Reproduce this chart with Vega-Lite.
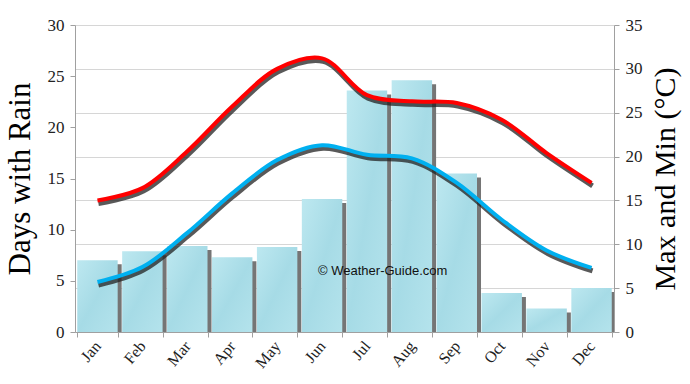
{
  "$schema": "https://vega.github.io/schema/vega-lite/v6.json",
  "width": 539,
  "height": 307,
  "autosize": "none",
  "padding": {"left": 75, "top": 25, "right": 76, "bottom": 52},
  "background": "white",
  "config": {"view": {"stroke": null}, "font": "Liberation Serif"},
  "data": {"values": [
    {"month": "Jan", "rain": 7.0, "max": 15.0, "min": 5.7},
    {"month": "Feb", "rain": 7.9, "max": 16.4, "min": 7.4},
    {"month": "Mar", "rain": 8.4, "max": 20.6, "min": 11.3},
    {"month": "Apr", "rain": 7.3, "max": 25.7, "min": 15.8},
    {"month": "May", "rain": 8.3, "max": 30.0, "min": 19.6},
    {"month": "Jun", "rain": 13.0, "max": 31.2, "min": 21.3},
    {"month": "Jul", "rain": 23.6, "max": 27.0, "min": 20.2},
    {"month": "Aug", "rain": 24.6, "max": 26.3, "min": 19.8},
    {"month": "Sep", "rain": 15.5, "max": 26.1, "min": 17.0},
    {"month": "Oct", "rain": 3.8, "max": 24.2, "min": 12.8},
    {"month": "Nov", "rain": 2.3, "max": 20.4, "min": 9.3},
    {"month": "Dec", "rain": 4.3, "max": 17.0, "min": 7.3}
  ]},
  "encoding": {
    "x": {
      "field": "month", "type": "nominal", "sort": null,
      "scale": {"paddingInner": 0.1, "paddingOuter": 0.05},
      "axis": {
        "title": null, "labelAngle": -50, "labelFontSize": 16, "labelColor": "#222",
        "tickBand": "extent", "domainColor": "#a0a0a0", "tickColor": "#a0a0a0",
        "tickSize": 5, "labelPadding": 6
      }
    }
  },
  "layer": [
    {
      "encoding": {
        "y": {
          "field": "rain", "type": "quantitative",
          "scale": {"domain": [0, 30]},
          "axis": {
            "orient": "left", "title": "Days with Rain", "titleFontSize": 31,
            "titleFontWeight": "normal", "titleColor": "#000", "titlePadding": 11,
            "values": [0, 5, 10, 15, 20, 25, 30], "grid": false,
            "labelFontSize": 17, "labelColor": "#222", "domainColor": "#a0a0a0",
            "tickColor": "#a0a0a0", "tickSize": 5, "labelPadding": 6
          }
        }
      },
      "layer": [
        {"mark": {"type": "bar", "color": "#757575", "xOffset": 4, "yOffset": 4, "clip": true}},
        {"mark": {"type": "bar", "color": {"gradient": "linear", "x1": 0, "y1": 0, "x2": 1, "y2": 1, "stops": [{"offset": 0, "color": "#bde8f0"}, {"offset": 0.5, "color": "#a6dbe6"}, {"offset": 1, "color": "#b4e3ec"}]}}},
        {
          "data": {"values": [{"month": "Jun", "rain": 6, "label": "© Weather-Guide.com"}]},
          "mark": {"type": "text", "align": "left", "dx": -4, "font": "Liberation Sans", "fontSize": 13, "color": "#111", "baseline": "middle"},
          "encoding": {"text": {"field": "label"}}
        }
      ]
    },
    {
      "encoding": {
        "y": {
          "type": "quantitative",
          "scale": {"domain": [0, 35]},
          "axis": {
            "orient": "right", "title": "Max and Min (°C)", "titleFontSize": 30,
            "titleAngle": 270, "titleBaseline": "top",
            "titleFontWeight": "normal", "titleColor": "#000", "titlePadding": 8,
            "values": [0, 5, 10, 15, 20, 25, 30, 35], "grid": true, "gridColor": "#d6d6d6",
            "labelFontSize": 17, "labelColor": "#222", "domainColor": "#a0a0a0",
            "tickColor": "#a0a0a0", "tickSize": 5, "labelPadding": 6
          }
        }
      },
      "layer": [
        {"mark": {"type": "line", "interpolate": "catmull-rom", "color": "#222", "opacity": 0.75, "strokeWidth": 5, "xOffset": 1, "yOffset": 3}, "encoding": {"y": {"field": "max"}}},
        {"mark": {"type": "line", "interpolate": "catmull-rom", "color": "#ff0000", "strokeWidth": 4}, "encoding": {"y": {"field": "max"}}},
        {"mark": {"type": "line", "interpolate": "catmull-rom", "color": "#222", "opacity": 0.75, "strokeWidth": 5, "xOffset": 1, "yOffset": 3}, "encoding": {"y": {"field": "min"}}},
        {"mark": {"type": "line", "interpolate": "catmull-rom", "color": "#00b0f0", "strokeWidth": 4}, "encoding": {"y": {"field": "min"}}}
      ]
    }
  ],
  "resolve": {"scale": {"y": "independent"}}
}
